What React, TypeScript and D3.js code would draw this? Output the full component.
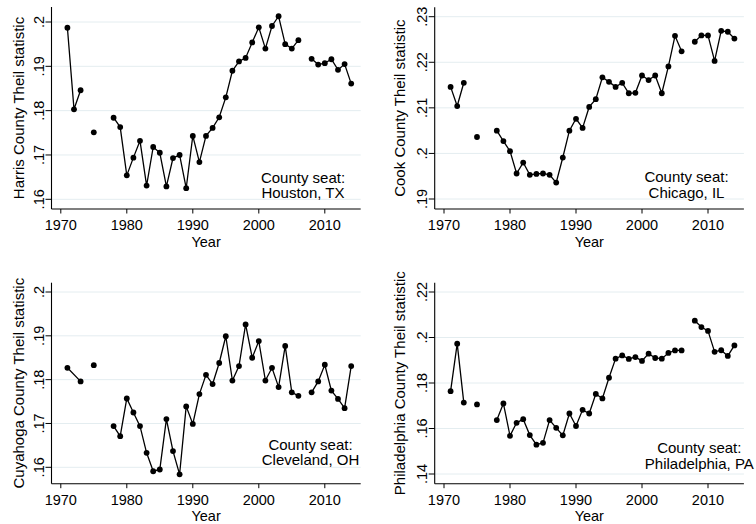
import React from "react";
import * as d3 from "d3";

// observation years (1972 absent from the Cuyahoga file, so 1971-1973 joins up)
const years = [
  1971, 1972, 1973, 1974, 1975, 1976, 1977, 1978, 1979, 1980, 1981, 1982, 1983, 1984, 1985,
  1986, 1987, 1988, 1989, 1990, 1991, 1992, 1993, 1994, 1995, 1996, 1997, 1998, 1999, 2000,
  2001, 2002, 2003, 2004, 2005, 2006, 2007, 2008, 2009, 2010, 2011, 2012, 2013, 2014,
];
const yearsCuyahoga = [
  1971, 1973, 1974, 1975, 1976, 1977, 1978, 1979, 1980, 1981, 1982, 1983, 1984, 1985,
  1986, 1987, 1988, 1989, 1990, 1991, 1992, 1993, 1994, 1995, 1996, 1997, 1998, 1999, 2000,
  2001, 2002, 2003, 2004, 2005, 2006, 2007, 2008, 2009, 2010, 2011, 2012, 2013, 2014,
];

const harris = [
  0.1987, 0.1803, 0.1846, null, 0.1751, null, null, 0.1784, 0.1763,
  0.1654, 0.1694, 0.1732, 0.1631, 0.1718, 0.1705, 0.1629, 0.1693, 0.17, 0.1625,
  0.1743, 0.1684, 0.1743, 0.1761, 0.1785, 0.183, 0.189, 0.1911, 0.1919, 0.1954,
  0.1988, 0.194, 0.1991, 0.2013, 0.195, 0.194, 0.1959, null, 0.1917, 0.1904,
  0.1907, 0.1916, 0.1892, 0.1905, 0.1861,
];
const cook = [
  0.2146, 0.2104, 0.2155, null, 0.2036, null, null, 0.205, 0.2027,
  0.2005, 0.1956, 0.198, 0.1953, 0.1955, 0.1956, 0.1953, 0.1936, 0.1991, 0.205,
  0.2076, 0.2056, 0.2102, 0.2119, 0.2167, 0.2157, 0.2146, 0.2155, 0.2132, 0.2133,
  0.2171, 0.2161, 0.2171, 0.2132, 0.2191, 0.2258, 0.2224, null, 0.2245, 0.2259,
  0.2259, 0.2203, 0.2269, 0.2267, 0.2252,
];
const cuyahoga = [
  0.1827, 0.1796, null, 0.1833, null, null, 0.1694, 0.1671,
  0.1757, 0.1725, 0.1694, 0.1633, 0.1591, 0.1595, 0.171, 0.1637, 0.1584, 0.1739,
  0.1699, 0.1767, 0.1811, 0.179, 0.1838, 0.1899, 0.1798, 0.1831, 0.1926, 0.185,
  0.1888, 0.1798, 0.1827, 0.1783, 0.1877, 0.1771, 0.1763, null, 0.1771, 0.1796,
  0.1834, 0.1775, 0.1756, 0.1735, 0.1831,
];
const philadelphia = [
  0.1764, 0.1973, 0.1714, null, 0.1706, null, null, 0.1637, 0.171,
  0.1568, 0.1625, 0.1641, 0.1571, 0.1529, 0.1537, 0.1637, 0.1603, 0.157, 0.1666,
  0.1611, 0.1682, 0.1666, 0.1752, 0.1732, 0.1823, 0.1907, 0.1921, 0.1906, 0.1914,
  0.1897, 0.1929, 0.191, 0.1907, 0.1932, 0.1943, 0.1943, null, 0.2074, 0.2046,
  0.2029, 0.1937, 0.1944, 0.1919, 0.1965,
];

const xTicks = [1970, 1980, 1990, 2000, 2010];
const harrisTicks = [0.16, 0.17, 0.18, 0.19, 0.2];
const harrisLabels = [".16", ".17", ".18", ".19", ".2"];
const cookTicks = [0.19, 0.2, 0.21, 0.22, 0.23];
const cookLabels = [".19", ".2", ".21", ".22", ".23"];
const cuyahogaTicks = [0.16, 0.17, 0.18, 0.19, 0.2];
const cuyahogaLabels = [".16", ".17", ".18", ".19", ".2"];
const phillyTicks = [0.14, 0.16, 0.18, 0.2, 0.22];
const phillyLabels = [".14", ".16", ".18", ".2", ".22"];

const font = "'Liberation Sans', Arial, Helvetica, sans-serif";
const gridColor = "#e4edf0";

type P = {
  title: string;
  seat: string;
  yrs: number[];
  vals: (number | null)[];
  ticks: number[];
  labels: string[];
  // layout
  ax: number; top: number; bottom: number;
  yHi: number; yLo: number; // pixel of top / bottom tick
  titleGap: number;
  seatDx: number; seatDy: number;
};

const panels: P[] = [
  { title: "Harris County Theil statistic", seat: "Houston, TX", yrs: years, vals: harris,
    ticks: harrisTicks, labels: harrisLabels,
    ax: 51.5, top: 7, bottom: 209, yHi: 22, yLo: 199.3, titleGap: 28, seatDx: 57.7, seatDy: 26.5 },
  { title: "Cook County Theil statistic", seat: "Chicago, IL", yrs: years, vals: cook,
    ticks: cookTicks, labels: cookLabels,
    ax: 434.7, top: 7.3, bottom: 209, yHi: 16.7, yLo: 199, titleGap: 30, seatDx: 57.4, seatDy: 26.8 },
  { title: "Cuyahoga County Theil statistic", seat: "Cleveland, OH", yrs: yearsCuyahoga, vals: cuyahoga,
    ticks: cuyahogaTicks, labels: cuyahogaLabels,
    ax: 51.5, top: 282.7, bottom: 483.7, yHi: 292, yLo: 467.3, titleGap: 28, seatDx: 50.2, seatDy: 33.9 },
  { title: "Philadelphia County Theil statistic", seat: "Philadelphia, PA", yrs: years, vals: philadelphia,
    ticks: phillyTicks, labels: phillyLabels,
    ax: 434.7, top: 282.7, bottom: 483.7, yHi: 292, yLo: 474, titleGap: 30, seatDx: 44.6, seatDy: 30.5 },
];

function Panel({ p }: { p: P }) {
  const right = p.ax + 309.2;
  const x = d3.scaleLinear().domain([1970, 2010]).range([p.ax + 9.3, p.ax + 9.3 + 264]);
  const t = p.ticks;
  const y = d3.scaleLinear().domain([t[0], t[t.length - 1]]).range([p.yLo, p.yHi]);
  const pts = p.yrs.map((yr, i) => ({ yr, v: p.vals[i] }));
  const line = d3
    .line<{ yr: number; v: number | null }>()
    .defined((d) => d.v != null)
    .x((d) => x(d.yr))
    .y((d) => y(d.v as number));
  const midY = (p.top + p.bottom) / 2;
  const midX = (p.ax + right) / 2;
  const cx = right - p.seatDx;
  return (
    <g fontFamily={font}>
      {t.map((v) => (
        <line key={"g" + v} x1={p.ax} x2={right} y1={y(v)} y2={y(v)} stroke={gridColor} strokeWidth={1} />
      ))}
      {t.map((v) => (
        <line key={"t" + v} x1={p.ax - 6} x2={p.ax} y1={y(v)} y2={y(v)} stroke="#000" strokeWidth={1} />
      ))}
      {t.map((v, i) => (
        <text key={"l" + v} transform={`translate(${p.ax - 7.5},${y(v)}) rotate(-90)`}
          textAnchor="middle" fontSize={14.5} fill="#000">{p.labels[i]}</text>
      ))}
      <text transform={`translate(${p.ax - p.titleGap},${midY}) rotate(-90)`}
        textAnchor="middle" fontSize={15} fill="#000">{p.title}</text>
      {xTicks.map((v) => (
        <g key={"x" + v}>
          <line x1={x(v)} x2={x(v)} y1={p.bottom} y2={p.bottom + 4.5} stroke="#000" strokeWidth={1} />
          <text x={x(v)} y={p.bottom + 20.8} textAnchor="middle" fontSize={14.5} fill="#000">{v}</text>
        </g>
      ))}
      <text x={midX} y={p.bottom + 37.5} textAnchor="middle" fontSize={14.5} fill="#000">Year</text>
      <line x1={p.ax} x2={p.ax} y1={p.top} y2={p.bottom} stroke="#000" strokeWidth={1.1} />
      <line x1={p.ax} x2={right} y1={p.bottom} y2={p.bottom} stroke="#000" strokeWidth={1.1} />
      <path d={line(pts) || ""} fill="none" stroke="#000" strokeWidth={1.3} />
      {pts.filter((d) => d.v != null).map((d) => (
        <circle key={d.yr} cx={x(d.yr)} cy={y(d.v as number)} r={2.9} fill="#000" />
      ))}
      <text x={cx} y={p.bottom - p.seatDy} textAnchor="middle" fontSize={15} fill="#000">County seat:</text>
      <text x={cx} y={p.bottom - p.seatDy + 15.4} textAnchor="middle" fontSize={15} fill="#000">{p.seat}</text>
    </g>
  );
}

export default function App() {
  return (
    <svg width={756} height={524} style={{ position: "absolute", left: 0, top: 0, background: "#fff" }}>
      <rect width={756} height={524} fill="#fff" />
      {panels.map((p) => (
        <Panel key={p.title} p={p} />
      ))}
    </svg>
  );
}
